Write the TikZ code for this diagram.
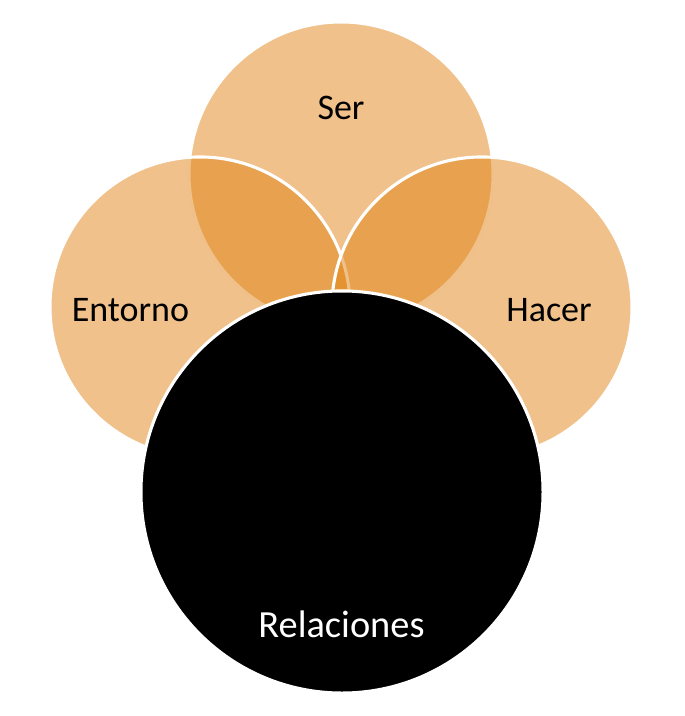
\documentclass[tikz,border=0pt]{standalone}
\usepackage{fontspec}
\setmainfont{Carlito}
\usetikzlibrary{positioning}
\definecolor{vennorange}{RGB}{225,131,21}
\definecolor{vennline}{RGB}{255,255,255}

\begin{document}
\begin{tikzpicture}[
    x=0.025cm, y=-0.025cm,
    venn/.style={
        circle,
        draw=vennline,
        line width=2.2pt,
        fill=vennorange,
        fill opacity=0.5,
        inner sep=0pt
    },
    core/.style={
        circle,
        draw=vennline,
        line width=2.2pt,
        fill=black,
        inner sep=0pt,
        minimum size=10.05cm
    },
    venntext/.style={
        font=\fontsize{25.6}{30}\selectfont,
        inner sep=0pt
    }
]
\useasboundingbox (0,0) rectangle (684,716);

% Three light circles
\node[venn, minimum size=7.6cm] (ser) at (341,174) {};
\node[venn, minimum size=7.5cm] (entorno) at (200,307) {};
\node[venn, minimum size=7.5cm] (hacer) at (482,307) {};

% Big dark circle in front
\node[core] (relaciones) at (342,492) {};

% Labels
\node[venntext] (serText) at (341,108) {Ser};
\node[venntext] (entornoText) at (130.5,310) {Entorno};
\node[venntext] (hacerText) at (549,310) {Hacer};
\node[venntext, font=\fontsize{27.3}{32}\selectfont, text=white] (relacionesText) at (341.5,624) {Relaciones};

\end{tikzpicture}
\end{document}
